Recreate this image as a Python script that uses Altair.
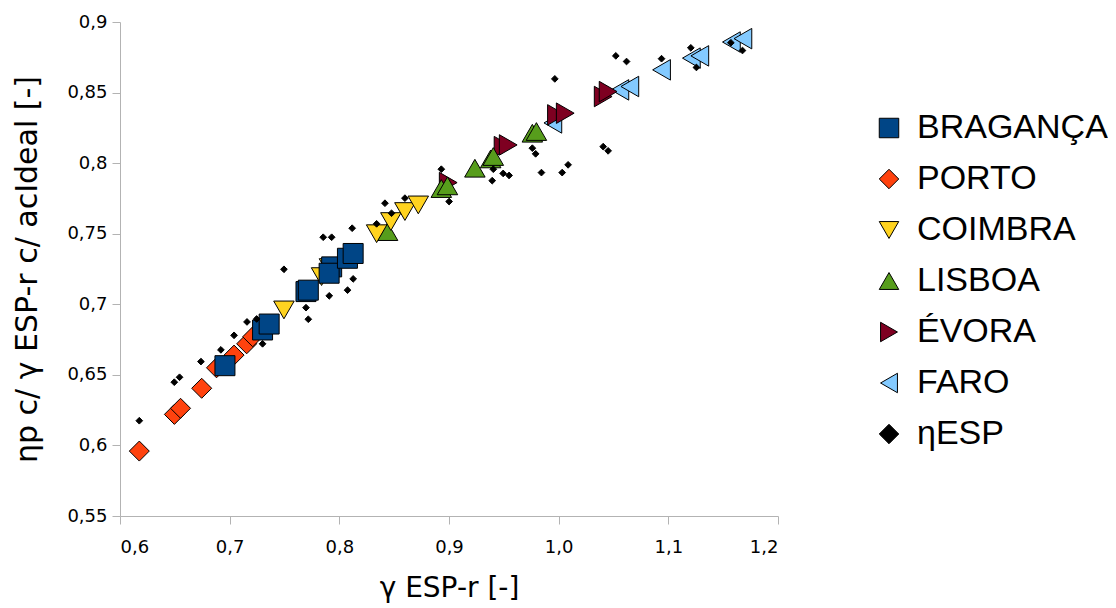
import altair as alt
import pandas as pd

series_order = ["BRAGANÇA", "PORTO", "COIMBRA", "LISBOA", "ÉVORA", "FARO", "ηESP"]
colors = ["#004586", "#ff420e", "#ffd320", "#579d1c", "#7e0021", "#83caff", "#000000"]
shapes = ["square", "diamond", "triangle-down", "triangle-up", "triangle-right", "triangle-left", "diamond"]
marker_size = {"BRAGANÇA": 400, "PORTO": 400, "COIMBRA": 420, "LISBOA": 420,
               "ÉVORA": 420, "FARO": 420, "ηESP": 45}

braganca_x = [0.6957, 0.730, 0.736, 0.7696, 0.7717, 0.793, 0.7907, 0.8074, 0.8126]
braganca_y = [0.6565, 0.6818, 0.686, 0.709, 0.710, 0.7265, 0.722, 0.7326, 0.736]

porto_x = [0.6176, 0.6496, 0.6552, 0.6745, 0.688, 0.704, 0.7155, 0.721]
porto_y = [0.596, 0.622, 0.6263, 0.6405, 0.655, 0.664, 0.672, 0.677]

coimbra_x = [0.7495, 0.7838, 0.791, 0.834, 0.847, 0.8598, 0.872]
coimbra_y = [0.696, 0.7196, 0.726, 0.750, 0.7586, 0.7657, 0.7704]

lisboa_x = [0.844, 0.893, 0.8986, 0.9236, 0.938, 0.9404, 0.976, 0.9797]
lisboa_y = [0.7515, 0.782, 0.7839, 0.7964, 0.803, 0.8047, 0.8212, 0.8224]

evora_x = [0.8993, 0.9493, 0.954, 0.998, 1.006, 1.0406, 1.0451]
evora_y = [0.7862, 0.8117, 0.8129, 0.8342, 0.8354, 0.8472, 0.8507]

faro_x = [0.9947, 1.0558, 1.0649, 1.0938, 1.121, 1.1287, 1.1575, 1.168]
faro_y = [0.8285, 0.8519, 0.8543, 0.8661, 0.8744, 0.876, 0.8858, 0.8882]

eta_x = [0.6176, 0.6495, 0.6543, 0.6738, 0.692, 0.704, 0.7158, 0.7246, 0.730,
         0.7495, 0.7696, 0.7717, 0.7853, 0.793, 0.7908, 0.8075, 0.8126, 0.8117,
         0.8416, 0.8476, 0.834, 0.8598, 0.893, 0.9001, 0.9404, 0.9394, 0.9494,
         0.9548, 0.976, 0.979, 0.9843, 1.0032, 1.0086, 0.9965, 1.0521, 1.0619,
         1.0938, 1.1205, 1.1256, 1.157, 1.1676, 1.0406, 1.0451]
eta_y = [0.6175, 0.6448, 0.6483, 0.6594, 0.6677, 0.678, 0.6875, 0.6896, 0.672,
         0.7248, 0.6976, 0.6894, 0.7475, 0.7475, 0.706, 0.710, 0.718, 0.7539,
         0.7716, 0.7645, 0.757, 0.7752, 0.7957, 0.7728, 0.7957, 0.7876, 0.7927,
         0.7913, 0.8106, 0.8066, 0.7933, 0.7933, 0.7988, 0.8597, 0.876, 0.872,
         0.874, 0.8817, 0.8678, 0.8853, 0.8798, 0.8117, 0.8087]

# drawing order: back to front
draw = [
    ("FARO", faro_x, faro_y),
    ("ÉVORA", evora_x, evora_y),
    ("LISBOA", lisboa_x, lisboa_y),
    ("COIMBRA", coimbra_x, coimbra_y),
    ("PORTO", porto_x, porto_y),
    ("BRAGANÇA", braganca_x, braganca_y),
    ("ηESP", eta_x, eta_y),
]
rows = []
i = 0
for name, xs, ys in draw:
    for xv, yv in zip(xs, ys):
        rows.append({"series": name, "x": xv, "y": yv, "ord": i, "sz": marker_size[name]})
        i += 1
df = pd.DataFrame(rows)

x_ticks = [0.6, 0.7, 0.8, 0.9, 1.0, 1.1, 1.2]
y_ticks = [0.55, 0.6, 0.65, 0.7, 0.75, 0.8, 0.85, 0.9]

chart = alt.Chart(df).mark_point(
    filled=True, opacity=1, stroke="#000000", strokeWidth=1
).encode(
    x=alt.X("x:Q",
            scale=alt.Scale(domain=[0.6, 1.2], nice=False, zero=False),
            axis=alt.Axis(values=x_ticks, title="γ ESP-r [-]",
                          labelExpr="replace(format(datum.value, '.1f'), '.', ',')",
                          labelPadding=14, titlePadding=18)),
    y=alt.Y("y:Q",
            scale=alt.Scale(domain=[0.55, 0.9], nice=False, zero=False),
            axis=alt.Axis(values=y_ticks, title="ηp c/ γ ESP-r c/ acIdeal [-]",
                          labelExpr="replace(format(datum.value, '.2~f'), '.', ',')",
                          labelPadding=5, titlePadding=24, titleFontSize=30)),
    color=alt.Color("series:N",
                    scale=alt.Scale(domain=series_order, range=colors),
                    legend=alt.Legend(title=None, orient="none", legendX=752, legendY=89,
                                      symbolSize=380, labelFontSize=34,
                                      labelFont="Liberation Sans", labelOffset=11,
                                      labelLimit=0,
                                      rowPadding=17, symbolStrokeColor="#000000",
                                      symbolStrokeWidth=1, labelColor="#000000")),
    shape=alt.Shape("series:N",
                    scale=alt.Scale(domain=series_order, range=shapes)),
    size=alt.Size("sz:Q", scale=None, legend=None),
    order=alt.Order("ord:Q"),
).properties(
    width=658, height=494,
    autosize=alt.AutoSizeParams(type="none"),
    padding={"left": 112, "top": 14, "right": 330, "bottom": 90},
).configure_view(
    stroke=None
).configure_axis(
    grid=False, domainColor="#b3b3b3", tickColor="#b3b3b3", tickSize=8,
    labelFont="DejaVu Sans", labelFontSize=18, labelColor="#000000",
    titleFont="DejaVu Sans", titleFontSize=28, titleFontWeight="normal",
    titleColor="#000000"
)

chart.save("out.html", embed_options={"renderer": "svg", "actions": False})
